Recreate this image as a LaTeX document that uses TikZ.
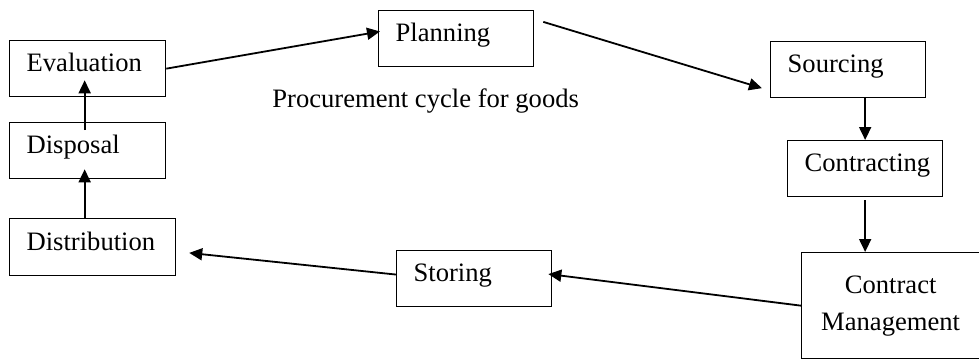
\documentclass[tikz,border=0pt]{standalone}
\usepackage{fontspec}
\setmainfont{Liberation Serif}
\usetikzlibrary{arrows.meta}

\tikzset{
  box/.style={draw, rectangle, line width=0.65pt, anchor=north west, inner xsep=8.5pt, inner ysep=0pt},
  stage/.style={box, minimum height=28pt, text width=60.5pt, align=left, text height=0.72em, text depth=0.4em},
  bigstage/.style={box, minimum height=53pt, text width=72pt, align=center},
  flow/.style={line width=0.9pt, -{Triangle[length=6.5pt,width=6pt]}},
}

\begin{document}
\begin{tikzpicture}[x=0.5pt, y=-0.5pt, font=\fontsize{13.3}{18.5}\selectfont]
	\useasboundingbox (0,0) rectangle (979,360);
	% Define nodes
	\node[stage, text width=61pt]                       (ev) at (9,40)   {Evaluation};
	\node[stage, text width=61pt]                       (dp) at (9,122)  {Disposal};
	\node[stage, text width=66pt, minimum height=28.5pt] (di) at (9,218)  {Distribution};
	\node[stage]                                        (pl) at (378,10) {Planning};
	\node[stage]                                        (so) at (770,41) {Sourcing};
	\node[stage]                                        (co) at (787,140) {Contracting};
	\node[stage]                                        (st) at (396,250) {Storing};
	\node[bigstage]                                     (cm) at (801,252) {Contract\\Management};
	\node[anchor=base west, inner sep=0pt] (title) at (272,107) {Procurement cycle for goods};
	% Connect the nodes
	\draw[flow] ([xshift=-1.5pt, yshift=-4pt]dp.north) -- ([xshift=-1.5pt, yshift=8.5pt]ev.south) ; %
	\draw[flow] ([xshift=-1.5pt]dp.south |- di.north) -- ([xshift=-1.5pt, yshift=5pt]dp.south) ; %
	\draw[flow, shorten >=-1pt] (ev.east) -- (pl.175) ; %
	\draw[flow, shorten <=4.7pt, shorten >=4.2pt] (pl.14) -- (so.195) ; %
	\draw[flow] (co.north |- so.south) -- (co.north) ; %
	\draw[flow, shorten <=1.5pt] (co.south) -- (co.south |- cm.north) ; %
	\draw[flow, shorten >=-2pt] (cm.west) -- (st.3) ; %
	\draw[flow, shorten >=6.5pt] (st.177) -- (di.357) ; %
\end{tikzpicture}
\end{document}
